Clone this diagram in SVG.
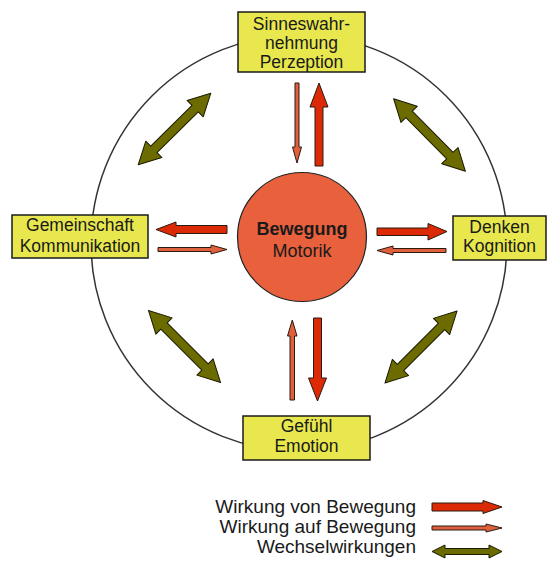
<svg xmlns="http://www.w3.org/2000/svg" width="552" height="561" viewBox="0 0 552 561">
<style>
.box{fill:#e8e84e;stroke:#1a1a1a;stroke-width:1.5}
.t{font-family:"Liberation Sans",Arial,sans-serif;font-size:17.5px;fill:#1a1a1a;text-anchor:middle}
.lg{font-family:"Liberation Sans",Arial,sans-serif;font-size:19px;fill:#1a1a1a;text-anchor:end}
.thick{fill:#dd2a06;stroke:#2a1a10;stroke-width:1;stroke-linejoin:round}
.thin{fill:#e0603e;stroke:#2a1a10;stroke-width:1;stroke-linejoin:round}
.dbl{fill:#6b6b00;stroke:#1a1a00;stroke-width:1;stroke-linejoin:round}
</style>
<defs>
<polygon id="da" points="-51,0 -29,-11.5 -29,-4.5 29,-4.5 29,-11.5 51,0 29,11.5 29,4.5 -29,4.5 -29,11.5"/>
</defs>
<rect width="552" height="561" fill="#ffffff"/>
<circle cx="299" cy="243" r="208" fill="none" stroke="#333" stroke-width="1.5"/>
<g id="connectors">
<polygon class="thin" points="295,83 299,83 299,147 301.5,147 297,163 292.5,147 295,147"/>
<polygon class="thick" points="315,166 315,107 310,107 319,83 328,107 323,107 323,166"/>
<polygon class="thick" points="227,225.5 176,225.5 176,222 156,229.5 176,237 176,233.5 227,233.5"/>
<polygon class="thin" points="158,247.5 211,247.5 211,245 227,249.5 211,254 211,251.5 158,251.5"/>
<polygon class="thick" points="377,228 428,228 428,223.5 447,231.5 428,240 428,235.5 377,235.5"/>
<polygon class="thin" points="446,248.5 393,248.5 393,246 377,250.5 393,255 393,252.5 446,252.5"/>
<polygon class="thin" points="290,400 294.5,400 294.5,336 297,336 292.3,320 287.5,336 290,336"/>
<polygon class="thick" points="313.5,318 321.5,318 321.5,378 326.5,378 317.5,401 308.5,378 313.5,378"/>
<use href="#da" class="dbl" transform="translate(174.5,129) rotate(-44.6)"/>
<use href="#da" class="dbl" transform="translate(429.5,135) rotate(45.3)"/>
<use href="#da" class="dbl" transform="translate(184.5,346.5) rotate(45)"/>
<use href="#da" class="dbl" transform="translate(421,347) rotate(-45)"/>
</g>
<g id="n-perzeption">
<rect class="box" x="238" y="12" width="127" height="60"/>
<text class="t" x="301.5" y="30">Sinneswahr-</text>
<text class="t" x="301.5" y="49">nehmung</text>
<text class="t" x="301.5" y="68">Perzeption</text>
</g>
<g id="n-kommunikation">
<rect class="box" x="12" y="215" width="136" height="43"/>
<text class="t" x="80" y="230.5">Gemeinschaft</text>
<text class="t" x="80" y="252">Kommunikation</text>
</g>
<g id="n-kognition">
<rect class="box" x="453" y="216" width="93" height="44"/>
<text class="t" x="499.5" y="233">Denken</text>
<text class="t" x="499.5" y="252">Kognition</text>
</g>
<g id="n-emotion">
<rect class="box" x="243" y="416" width="127" height="44"/>
<text class="t" x="306.5" y="432">Gefühl</text>
<text class="t" x="306.5" y="452">Emotion</text>
</g>
<g id="n-bewegung">
<circle cx="302" cy="237" r="64.5" fill="#e8603c" stroke="#222" stroke-width="1.2"/>
<text class="t" x="302" y="235" style="font-weight:bold;font-size:18px">Bewegung</text>
<text class="t" x="302" y="257" style="font-size:18px">Motorik</text>
</g>
<g id="legend">
<text class="lg" x="416" y="513">Wirkung von Bewegung</text>
<text class="lg" x="416" y="533">Wirkung auf Bewegung</text>
<text class="lg" x="416" y="553">Wechselwirkungen</text>
<polygon class="thick" points="432,503 483,503 483,500.5 502,507 483,513.5 483,511 432,511"/>
<polygon class="thin" points="432,526 486,526 486,524 502,528 486,532 486,530 432,530"/>
<polygon class="dbl" points="432,551.5 445,545 445,548.5 489,548.5 489,545 502,551.5 489,558 489,554.5 445,554.5 445,558"/>
</g>
</svg>
